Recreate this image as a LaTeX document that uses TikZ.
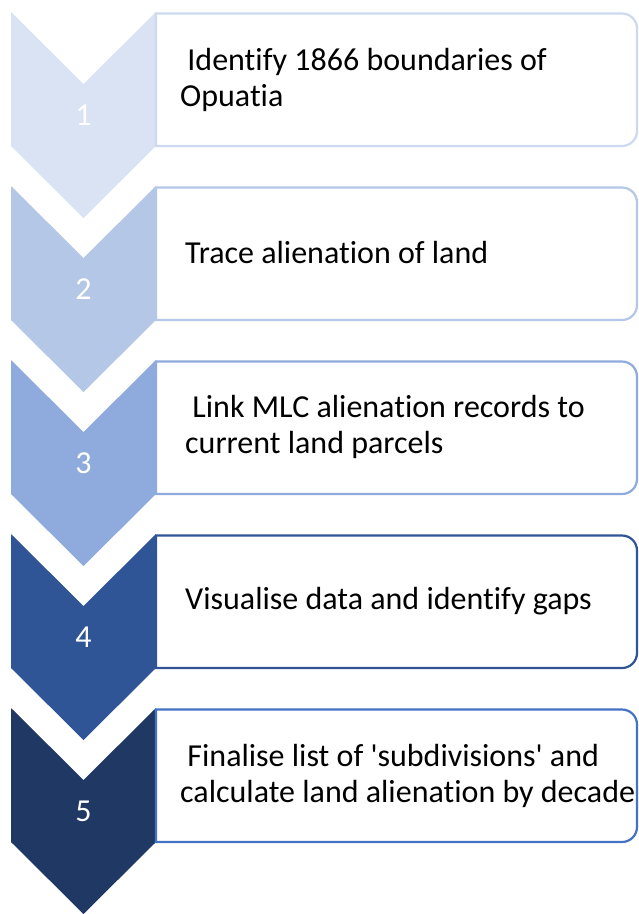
\documentclass[tikz,border=0pt]{standalone}
\usepackage{fontspec}
\newfontfamily\carlito{Carlito}[Ligatures=NoCommon]
\definecolor{cA}{HTML}{DAE3F3}
\definecolor{cB}{HTML}{B4C7E7}
\definecolor{cC}{HTML}{8FAADC}
\definecolor{cD}{HTML}{2F5597}
\definecolor{cE}{HTML}{203864}
\definecolor{oA}{HTML}{CCD9F0}
\definecolor{oE}{HTML}{4472C4}
\tikzset{
  chev/.style={fill=#1, draw=none},
  stepbox/.style={draw=#1, line width=2.2pt, fill=white},
  steptext/.style={anchor=west, align=left, inner sep=0pt, text=black, font=\carlito\fontsize{32}{36}\selectfont},
  stepnum/.style={anchor=center, inner sep=0pt, text=white, font=\carlito\fontsize{32}{36}\selectfont}
}
\newcommand{\chevronshape}[2]{% #1 top, #2 colour
  \fill[chev=#2] (11,#1) -- (83.5,#1+72) -- (156,#1) -- (156,#1+134) -- (83.5,#1+206) -- (11,#1+134) -- cycle;}
\newcommand{\boxshape}[2]{% #1 top, #2 colour
  \draw[stepbox=#2] (156,#1+1.5) -- (622,#1+1.5) arc[start angle=-90,end angle=0,radius=15] -- (637,#1+119) arc[start angle=0,end angle=90,radius=15] -- (156,#1+134) -- cycle;}
\begin{document}
\begin{tikzpicture}[x=1pt,y=-1pt]
\useasboundingbox (0,0) rectangle (639,914);
\chevronshape{12}{cA}
\boxshape{12}{oA}
\chevronshape{186}{cB}
\boxshape{186}{cB}
\chevronshape{360}{cC}
\boxshape{360}{cC}
\chevronshape{534}{cD}
\boxshape{534}{cD}
\chevronshape{708}{cE}
\boxshape{708}{oE}
\node[stepnum] (n1) at (83.5,115) {1};
\node[stepnum] (n2) at (83.5,289) {2};
\node[stepnum] (n3) at (83.5,463) {3};
\node[stepnum] (n4) at (83.5,637) {4};
\node[stepnum] (n5) at (83.5,811) {5};
\node[steptext] (t1) at (180,80) {~Identify 1866 boundaries of\\Opuatia};
\node[steptext] (t2) at (185,253) {Trace alienation of land};
\node[steptext] (t3) at (185,427) {~Link MLC alienation records to\\current land parcels};
\node[steptext] (t4) at (185,601) {Visualise data and identify gaps};
\node[steptext] (t5) at (180,776) {~Finalise list of 'subdivisions' and\\calculate land alienation by decade};
\end{tikzpicture}
\end{document}
